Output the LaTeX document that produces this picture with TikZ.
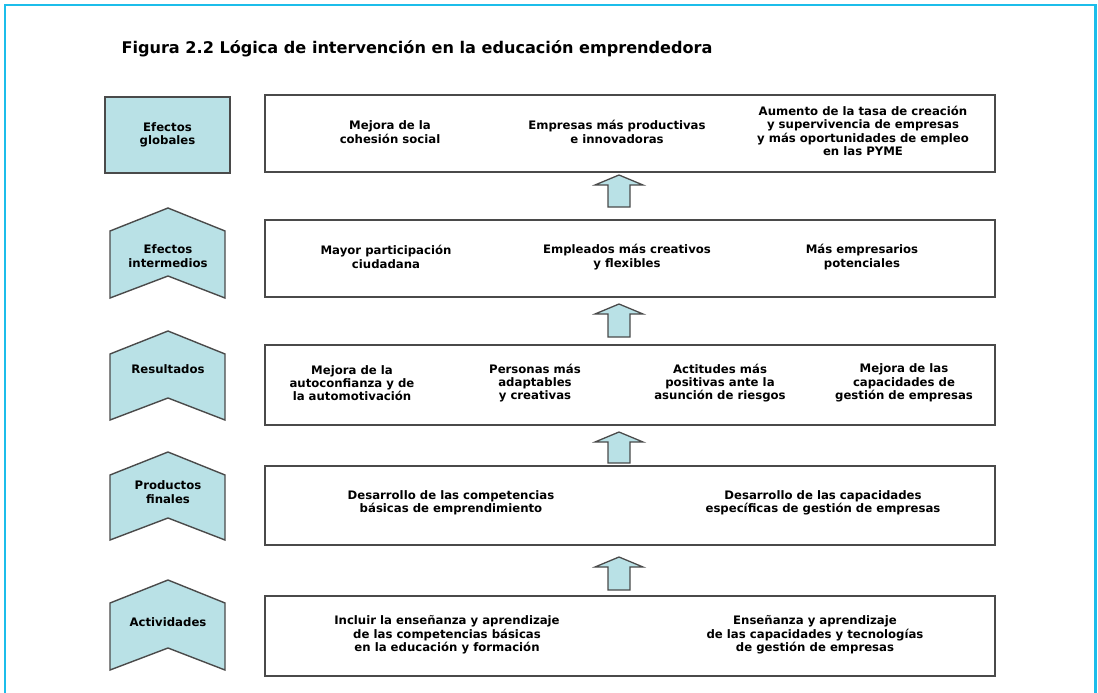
\documentclass[tikz,border=0pt]{standalone}
\usepackage{fontspec}
\setmainfont{DejaVu Sans}
\usetikzlibrary{calc}
\definecolor{framecyan}{HTML}{1CBDEA}
\definecolor{lightteal}{HTML}{B9E1E6}
\definecolor{edgegrey}{HTML}{4A4A4A}
\tikzset{
  txt/.style={font=\bfseries\fontsize{11.7}{13.3}\selectfont, align=center, text=black},
  rowbox/.style={draw=edgegrey, line width=2pt, minimum width=730pt, inner sep=0pt},
  tealshape/.style={draw=edgegrey, fill=lightteal, line width=1.4pt, line join=miter},
  lbl/.style={font=\bfseries\fontsize{11.7}{13.3}\selectfont, align=center},
}
\newcommand{\chevronat}[2]{% #1 = top point y, #2 = bottom corner y
  \draw[tealshape] (110,#1+23) -- (168,#1) -- (225,#1+23) -- (225,#2) -- (168,#2-22) -- (110,#2) -- cycle;}
\newcommand{\blockup}[2]{% #1 tip y, #2 bottom y
  \draw[tealshape, line width=1.3pt] (619,#1) -- (643,#1+10) -- (630,#1+10) -- (630,#2) -- (608,#2) -- (608,#1+10) -- (595,#1+10) -- cycle;}
\begin{document}
\begin{tikzpicture}[x=1pt, y=-1pt]
\useasboundingbox (0,0) rectangle (1098,693);
% frame
\draw[framecyan, line width=2.6pt] (5,700) -- (5,5) -- (1095.5,5) -- (1095.5,700);
\node[anchor=base west, font=\bfseries\fontsize{16.1}{20}\selectfont] (title) at (118,54) {Figura 2.2 Lógica de intervención en la educación emprendedora};

% right boxes
\node[rowbox, minimum height=77pt] (b1) at (630,133.5) {};
\node[rowbox, minimum height=77pt] (b2) at (630,258.5) {};
\node[rowbox, minimum height=80pt] (b3) at (630,385) {};
\node[rowbox, minimum height=79pt] (b4) at (630,505.5) {};
\node[rowbox, minimum height=80pt] (b5) at (630,636) {};

% left labels
\node[tealshape, minimum width=125pt, minimum height=76pt, inner sep=0pt] (l1) at (167.5,135) {};
\node[lbl] (t1) at (l1) {Efectos\\globales};
\chevronat{208}{298}
\node[lbl] (t2) at (168,256) {Efectos\\intermedios};
\chevronat{331}{420}
\node[lbl] (t3) at (168,369) {Resultados};
\chevronat{452}{540}
\node[lbl] (t4) at (168,492) {Productos\\finales};
\chevronat{580}{670}
\node[lbl] (t5) at (168,622) {Actividades};

% arrows
\blockup{175}{207}
\blockup{304}{337}
\blockup{432}{463}
\blockup{557}{590}

% texts row 1
\node[txt] (r1a) at (390,132) {Mejora de la\\cohesión social};
\node[txt] (r1b) at (617,132) {Empresas más productivas\\e innovadoras};
\node[txt] (r1c) at (863,131) {Aumento de la tasa de creación\\y supervivencia de empresas\\y más oportunidades de empleo\\en las PYME};
% row 2
\node[txt] (r2a) at (386,257) {Mayor participación\\ciudadana};
\node[txt] (r2b) at (627,257) {Empleados más creativos\\y flexibles};
\node[txt] (r2c) at (862,257) {Más empresarios\\potenciales};
% row 3
\node[txt] (r3a) at (352,383) {Mejora de la\\autoconfianza y de\\la automotivación};
\node[txt] (r3b) at (535,383) {Personas más\\adaptables\\y creativas};
\node[txt] (r3c) at (720,383) {Actitudes más\\positivas ante la\\asunción de riesgos};
\node[txt] (r3d) at (904,383) {Mejora de las\\capacidades de\\gestión de empresas};
% row 4
\node[txt] (r4a) at (451,503) {Desarrollo de las competencias\\básicas de emprendimiento};
\node[txt] (r4b) at (823,503) {Desarrollo de las capacidades\\específicas de gestión de empresas};
% row 5
\node[txt] (r5a) at (447,635) {Incluir la enseñanza y aprendizaje\\de las competencias básicas\\en la educación y formación};
\node[txt] (r5b) at (815,635) {Enseñanza y aprendizaje\\de las capacidades y tecnologías\\de gestión de empresas};
\end{tikzpicture}
\end{document}
